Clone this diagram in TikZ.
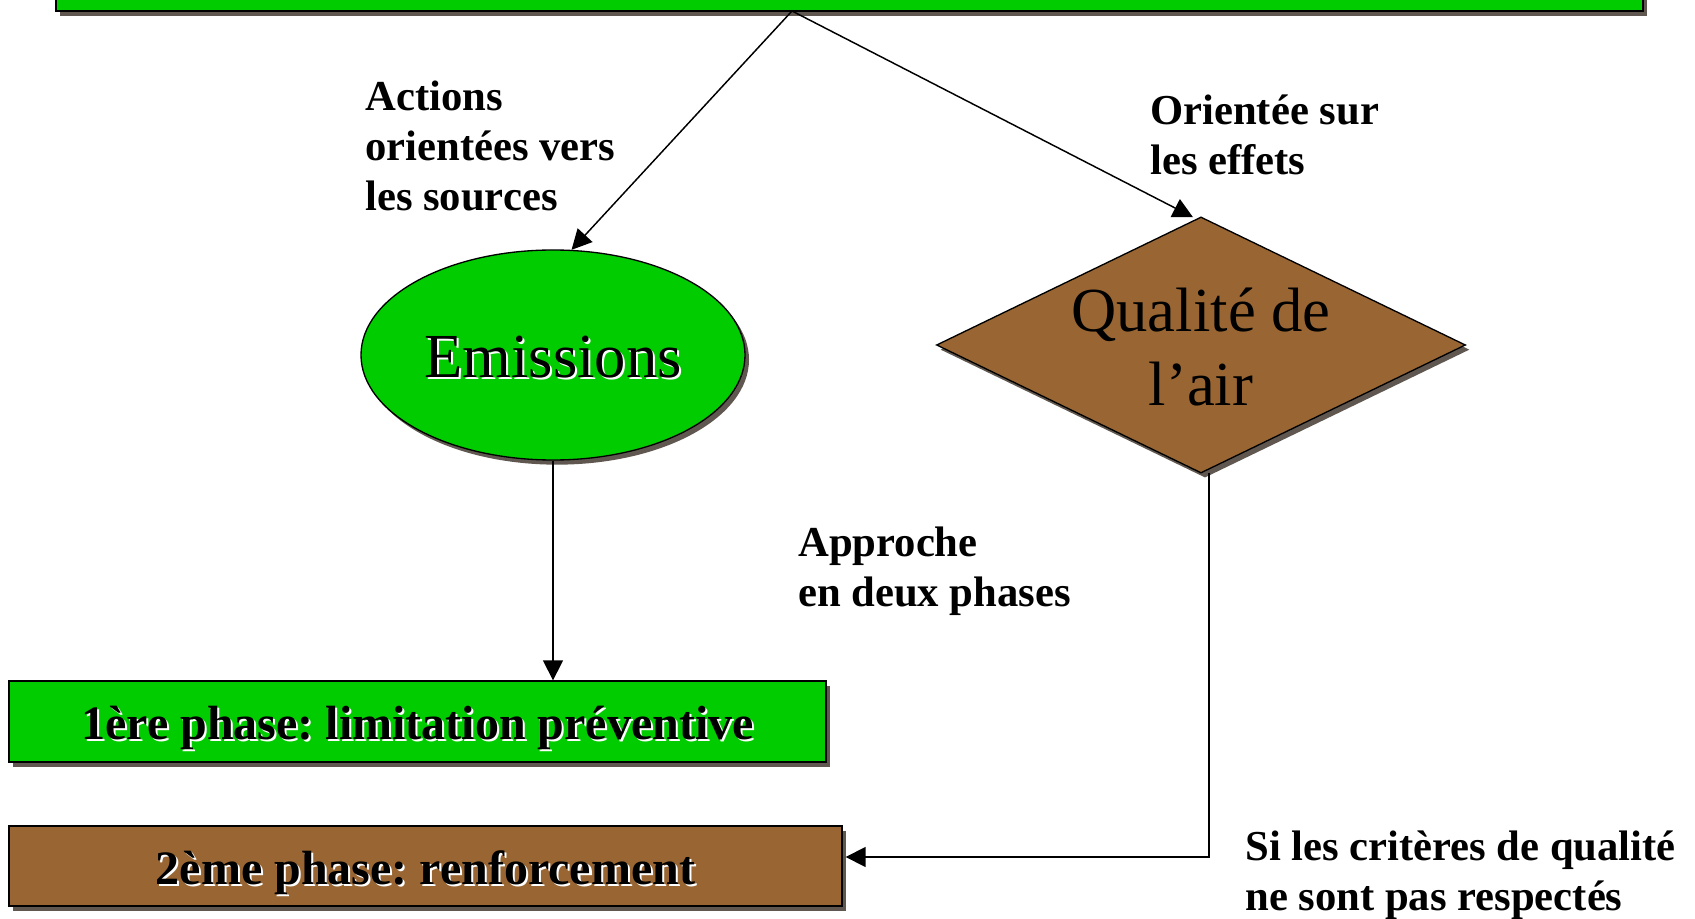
\documentclass[tikz,border=0pt]{standalone}
\usepackage{fontspec}
\setmainfont{Liberation Serif}
\frenchspacing
\usetikzlibrary{arrows.meta,shadows,calc,shapes.geometric}
\definecolor{grn}{RGB}{0,204,0}
\definecolor{brn}{RGB}{153,102,51}
\definecolor{shd}{RGB}{96,88,80}
\newcommand{\shtxt}[1]{\makebox[0pt][l]{\hspace{1.6pt}\raisebox{-1.6pt}{\textcolor{white}{#1}}}#1}
\begin{document}
\begin{tikzpicture}[x=0.75pt,y=-0.75pt,
  shapeshadow/.style={drop shadow={shadow xshift=3pt, shadow yshift=-3.5pt, fill=shd, opacity=1}},
  conn/.style={draw=black, line width=1.1pt},
  arr/.style={conn, -{Triangle[length=15pt,width=15pt]}},
  lbl/.style={font=\fontsize{32}{37.5}\selectfont\bfseries, align=left, anchor=base west, inner sep=0pt},
  boxtxt/.style={font=\fontsize{36}{40}\selectfont\bfseries, text height=27.4pt, text depth=0pt, inner sep=0pt, draw=black, line width=1pt, shapeshadow},
]
\useasboundingbox (0,0) rectangle (1695,919);
\clip (0,0) rectangle (1695,919);
\fill[white] (0,0) rectangle (1695,919);

% top bar
\node[fill=grn, draw=black, line width=1pt, minimum width=1190.25pt, minimum height=46.5pt, inner sep=0pt, shapeshadow] (bar) at (849.5,-20) {};
\coordinate (apex) at (792,11);

% ellipse
\node[ellipse, fill=grn, draw=black, line width=1pt, minimum width=288pt, minimum height=157.5pt, inner sep=0pt, shapeshadow, font=\fontsize{47}{56}\selectfont, text height=33.8pt, text depth=0pt] (em) at (553,355) {\shtxt{Emissions}};

% diamond
\node[minimum width=396pt, minimum height=191.25pt, inner sep=0pt] (dia) at (1201,345) {};
\path[fill=brn, draw=black, line width=1pt, shapeshadow] (dia.north) -- (dia.east) -- (dia.south) -- (dia.west) -- cycle;
\node[font=\fontsize{47}{55.5}\selectfont, align=center, inner sep=0pt] (diat) at ($(dia.center)+(0,2)$) {Qualité de\\l’air};

% boxes
\node[boxtxt, fill=grn, minimum width=612.75pt, minimum height=60.75pt] (b1) at (417.5,721.5) {\shtxt{1ère phase: limitation préventive}};
\node[boxtxt, fill=brn, minimum width=624.75pt, minimum height=60pt] (b2) at (425.5,866) {\shtxt{2ème phase: renforcement}};

% connectors
\draw[arr] (apex) -- (em.80);
\draw[arr] (apex) -- ($(dia.north)+(-8,0)$);
\draw[arr] (em.south) -- (em.south |- b1.north);
\draw[arr] ($(dia.south)+(8,0)$) |- ($(b2.east)+(3,-9)$);

% labels (anchored at the baseline of the last line)
\node[lbl] (l1) at (365,211) {Actions\\orientées vers\\les sources};
\node[lbl] (l2) at (1150,175) {Orientée sur\\les effets};
\node[lbl] (l3) at (798,606) {Approche\\en deux phases};
\node[lbl] (l4) at (1245,910) {Si les critères de qualité\\ne sont pas respectés};
\end{tikzpicture}
\end{document}
